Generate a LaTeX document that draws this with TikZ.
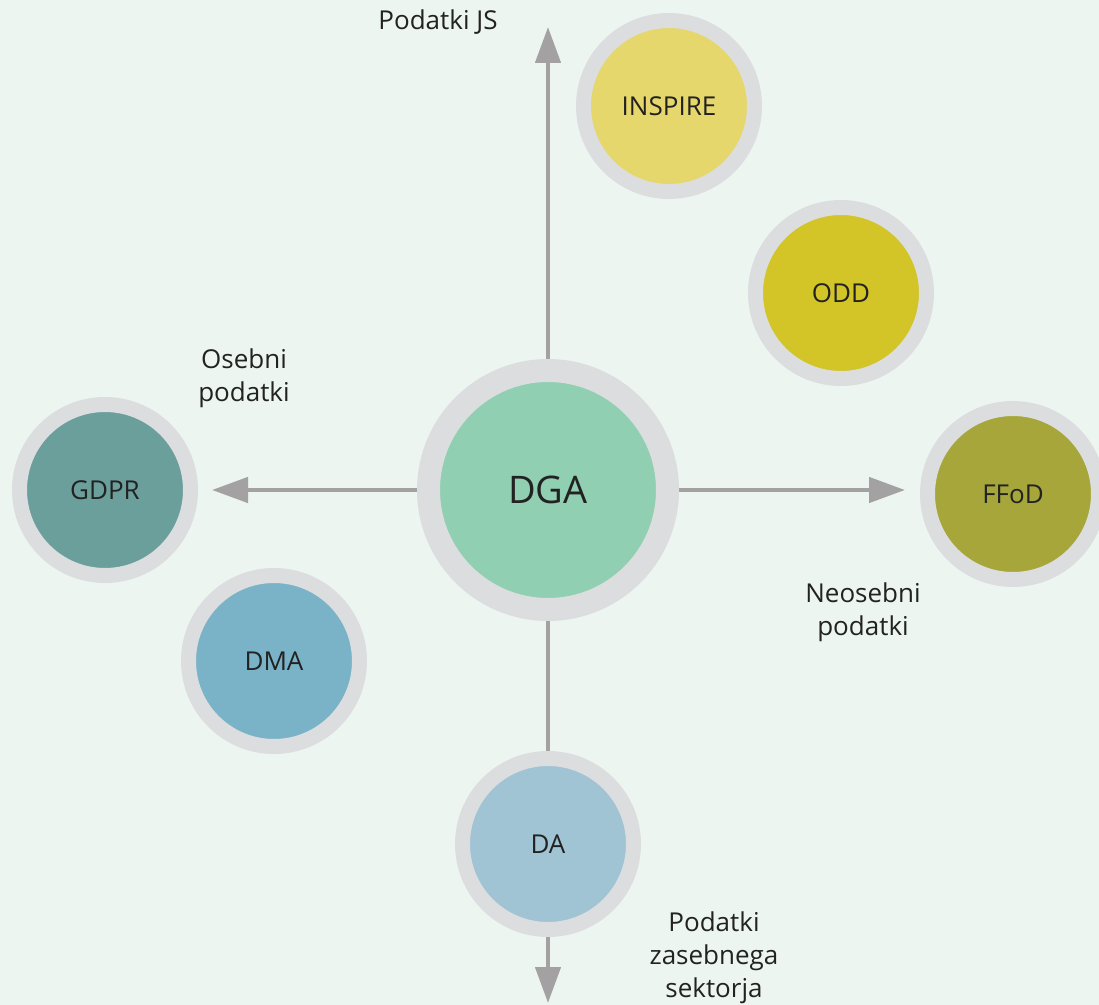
\documentclass[tikz,border=0pt]{standalone}
\usepackage{fontspec}
\setmainfont{Open Sans}
\usetikzlibrary{arrows.meta}
\pgfdeclarelayer{bg}
\pgfsetlayers{bg,main}
\definecolor{paper}{HTML}{EDF5F0}
\definecolor{ring}{HTML}{DCDDDF}
\definecolor{axisgray}{HTML}{A3A1A2}
\definecolor{ink}{HTML}{222222}
\definecolor{dgafill}{HTML}{90CFB2}
\definecolor{inspirefill}{HTML}{E5D76B}
\definecolor{oddfill}{HTML}{D3C427}
\definecolor{ffodfill}{HTML}{A7A63A}
\definecolor{gdprfill}{HTML}{6B9F9C}
\definecolor{dmafill}{HTML}{7AB3C7}
\definecolor{dafill}{HTML}{A0C4D4}
\tikzset{
  disc/.style={circle, draw=ring, line width=7.5pt, minimum size=85.5pt, inner sep=0pt,
    text=ink, font=\fontsize{13}{15}\selectfont},
  axis/.style={draw=axisgray, line width=2.25pt},
  axisarrow/.style={axis, -{Triangle[length=18pt,width=12.5pt]}},
  tag/.style={align=center, text=ink, font=\fontsize{13}{16.5}\selectfont}
}

\begin{document}
\begin{tikzpicture}[x=0.5pt,y=-0.5pt]
        \begin{pgfonlayer}{bg}
                \fill[paper] (0,0) rectangle (1099,1005);
        \end{pgfonlayer}
        \useasboundingbox (0,0) rectangle (1099,1005);
        \node (dga) [disc, fill=dgafill, line width=11.5pt, minimum size=119.5pt,
                font=\fontsize{19}{22}\selectfont] at (548,490) {DGA};
        \node (inspire) [disc, fill=inspirefill] at (669,106) {INSPIRE};
        \node (odd) [disc, fill=oddfill] at (841,293) {ODD};
        \node (ffod) [disc, fill=ffodfill] at (1013,494) {FFoD};
        \node (gdpr) [disc, fill=gdprfill] at (105,490) {GDPR};
        \node (dma) [disc, fill=dmafill] at (274,661) {DMA};
        \node (da) [disc, fill=dafill] at (548,844) {DA};
        \node (js) [tag] at (438,22) {Podatki JS};
        \node (osebni) [tag] at (244,378) {Osebni\\podatki};
        \node (neosebni) [tag] at (863,612) {Neosebni\\podatki};
        \node (zasebni) [tag] at (714,958) {Podatki\\zasebnega\\sektorja};
        \coordinate (up) at (548,27);
        \coordinate (left) at (212,490);
        \coordinate (right) at (905,490);
        \coordinate (down) at (548,1003);
        \begin{pgfonlayer}{bg}
                \draw[axisarrow] (dga) -- (up);
                \draw[axisarrow] (dga) -- (left);
                \draw[axisarrow] (dga) -- (right);
                \draw[axis] (dga) -- (da);
                \draw[axisarrow] (da) -- (down);
        \end{pgfonlayer}
\end{tikzpicture}
\end{document}
